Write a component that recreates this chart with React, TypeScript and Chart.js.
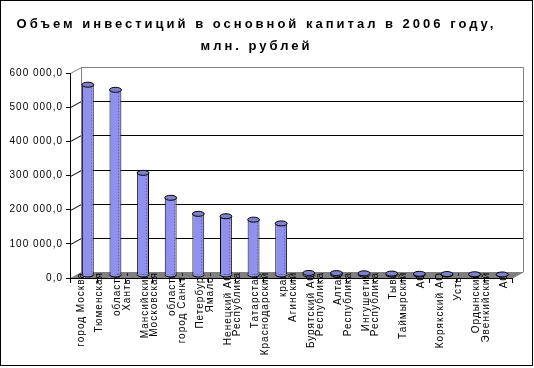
import React, { useEffect, useRef } from 'react';
import { Chart, registerables } from 'chart.js';

Chart.register(...registerables);

const FONT = '"Liberation Sans", Arial, sans-serif';

const TITLE_LINES = ['Объем инвестиций в основной капитал в 2006 году,', 'млн. рублей'];

const CATEGORY_LABELS: string[][] = [
  ['город Москва'],
  ['Тюменская', 'область'],
  ['Ханты-', 'Мансийский'],
  ['Московская', 'область'],
  ['город Санкт-', 'Петербург'],
  ['Ямало-', 'Ненецкий АО'],
  ['Республика', 'Татарстан'],
  ['Краснодарский', 'край'],
  ['Агинский', 'Бурятский АО'],
  ['Республика', 'Алтай'],
  ['Республика', 'Ингушетия'],
  ['Республика', 'Тыва'],
  ['Таймырский', 'АО'],
  ['Корякский АО'],
  ['Усть-', 'Ордынский'],
  ['Эвенкийский', 'АО'],
];

const INVESTMENT_VALUES = [
  557000, 542000, 299000, 226000, 179000, 172000, 162000, 151000,
  6000, 5500, 5000, 4200, 3500, 2800, 2200, 1600,
];

const Y_MIN = 0;
const Y_MAX = 600000;
const Y_STEP = 100000;

const BAR_COLOR = '#9090ee';
const TOP_COLOR = '#8080cc';

function formatRu(v: number): string {
  const s = Math.round(v).toString().replace(/\B(?=(\d{3})+(?!\d))/g, ' ');
  return s + ',0';
}

// 3D depth offsets
const DEPTH_DX = 11;
const DEPTH_DY = -6;
const BAR_DX = 4;
const BAR_DY = -3;

const spacingPlugin = {
  id: 'spacing',
  beforeDraw(chart: any) {
    const tb = chart.titleBlock;
    if (tb && !tb.__wrapped) {
      const orig = tb.draw.bind(tb);
      tb.draw = (...a: any[]) => {
        const ctx = chart.ctx as any;
        const prev = ctx.letterSpacing;
        ctx.letterSpacing = '3px';
        orig(...a);
        ctx.letterSpacing = prev || '0px';
      };
      tb.__wrapped = true;
    }
    Object.values(chart.scales).forEach((sc: any) => {
      if (!sc.__wrapped) {
        const orig = sc.drawLabels.bind(sc);
        sc._computeLabelArea = () => undefined;
        sc.drawLabels = (...a: any[]) => {
          const ctx = chart.ctx as any;
          const prev = ctx.letterSpacing;
          ctx.letterSpacing = '1px';
          orig(...a);
          ctx.letterSpacing = prev || '0px';
        };
        sc.__wrapped = true;
      }
    });
  },
};

const wallsPlugin = {
  id: 'walls',
  beforeDraw(chart: any) {
    const ctx = chart.ctx as CanvasRenderingContext2D;
    const { left, right, top, bottom } = chart.chartArea;
    const y = chart.scales.y;
    const L = Math.round(left) + 0.5;
    const R = Math.round(right) + 0.5;
    ctx.save();
    ctx.lineWidth = 1;
    // floor
    ctx.fillStyle = '#808080';
    ctx.beginPath();
    ctx.moveTo(L, bottom);
    ctx.lineTo(R, bottom);
    ctx.lineTo(R + DEPTH_DX, bottom + DEPTH_DY);
    ctx.lineTo(L + DEPTH_DX, bottom + DEPTH_DY);
    ctx.closePath();
    ctx.fill();
    // back gridlines
    for (let v = Y_MIN + Y_STEP; v < Y_MAX; v += Y_STEP) {
      const py = Math.round(y.getPixelForValue(v)) + 0.5;
      ctx.strokeStyle = '#000';
      ctx.beginPath();
      ctx.moveTo(L, py);
      ctx.lineTo(L + DEPTH_DX, py + DEPTH_DY);
      ctx.lineTo(R + DEPTH_DX, py + DEPTH_DY);
      ctx.stroke();
    }
    // wall outlines
    const ty = Math.round(top) + 0.5;
    ctx.strokeStyle = '#808080';
    ctx.beginPath();
    ctx.moveTo(L, ty);
    ctx.lineTo(L + DEPTH_DX, ty + DEPTH_DY);
    ctx.lineTo(R + DEPTH_DX, ty + DEPTH_DY);
    ctx.lineTo(R + DEPTH_DX, bottom + DEPTH_DY);
    ctx.lineTo(R, bottom);
    ctx.moveTo(L + DEPTH_DX, ty + DEPTH_DY);
    ctx.lineTo(L + DEPTH_DX, bottom + DEPTH_DY);
    ctx.stroke();
    ctx.restore();
  },
};

const barsPlugin = {
  id: 'bars3d',
  beforeDatasetsDraw(chart: any) {
    const ctx = chart.ctx as CanvasRenderingContext2D;
    ctx.save();
    ctx.translate(BAR_DX, BAR_DY);
  },
  afterDatasetsDraw(chart: any) {
    const ctx = chart.ctx as CanvasRenderingContext2D;
    const meta = chart.getDatasetMeta(0);
    const eh = 2.5;
    meta.data.forEach((bar: any) => {
      const x = bar.x;
      const yTop = bar.y;
      const yBase = bar.base;
      const w = bar.width;
      ctx.lineWidth = 1;
      ctx.beginPath();
      ctx.ellipse(x, yBase, w / 2, eh, 0, 0, Math.PI);
      ctx.fillStyle = BAR_COLOR;
      ctx.fill();
      ctx.strokeStyle = '#000';
      ctx.stroke();
      if (yBase - yTop > 6) {
        ctx.save();
        ctx.setLineDash([1, 2]);
        ctx.strokeStyle = '#5a5aa8';
        ctx.beginPath();
        ctx.moveTo(Math.round(x + w / 2 - 3) + 0.5, yTop + 3);
        ctx.lineTo(Math.round(x + w / 2 - 3) + 0.5, yBase);
        ctx.stroke();
        ctx.restore();
      }
      ctx.beginPath();
      ctx.ellipse(x, yTop, w / 2, eh, 0, 0, Math.PI * 2);
      ctx.fillStyle = TOP_COLOR;
      ctx.fill();
      ctx.strokeStyle = '#000';
      ctx.stroke();
    });
    ctx.restore();
  },
};

export default function App() {
  const ref = useRef<HTMLCanvasElement | null>(null);

  useEffect(() => {
    if (!ref.current) return;
    const chart = new Chart(ref.current, {
      type: 'bar',
      data: {
        labels: CATEGORY_LABELS.map((l) => l.join(' ')),
        datasets: [
          {
            data: INVESTMENT_VALUES,
            backgroundColor: BAR_COLOR,
            borderColor: '#000',
            borderWidth: 1,
            borderSkipped: 'bottom',
            barPercentage: 0.43,
            categoryPercentage: 1,
            clip: false as any,
          },
        ],
      },
      options: {
        responsive: false,
        animation: false,
        events: [],
        layout: { padding: { top: 0, left: 0, right: 20, bottom: 0 } },
        plugins: {
          legend: { display: false },
          tooltip: { enabled: false },
          title: {
            display: true,
            text: TITLE_LINES,
            color: '#000',
            font: { family: FONT, size: 13, weight: 'bold', lineHeight: '22px' } as any,
            padding: { top: 12, bottom: 16 },
          },
        },
        scales: {
          x: {
            grid: {
              display: true,
              drawOnChartArea: false,
              drawTicks: true,
              tickLength: 5,
              color: '#000',
              offset: true,
            },
            border: { display: true, color: '#000', width: 1 },
            ticks: {
              autoSkip: false,
              maxRotation: 90,
              minRotation: 90,
              padding: -11,
              labelOffset: -12,
              color: '#000',
              font: (c: any) => {
                const l = CATEGORY_LABELS[c.index];
                const single = l && l.length === 1;
                return { family: FONT, size: 10, lineHeight: single ? '9px' : '18px' } as any;
              },
              callback: (_v: any, i: number) => {
                const l = CATEGORY_LABELS[i];
                return l.length === 1 ? ['', l[0]] : l;
              },
            },
            afterFit: (s: any) => {
              s.height = 87;
            },
          },
          y: {
            min: Y_MIN,
            max: Y_MAX,
            grid: {
              display: true,
              drawOnChartArea: false,
              drawTicks: true,
              tickLength: 4,
              color: '#000',
            },
            border: { display: true, color: '#000', width: 1 },
            ticks: {
              stepSize: Y_STEP,
              padding: 3,
              color: '#000',
              font: { family: FONT, size: 10 },
              callback: (v: any) => formatRu(Number(v)),
            },
            afterFit: (s: any) => {
              s.width = 69;
            },
          },
        },
      },
      plugins: [spacingPlugin, wallsPlugin, barsPlugin],
    });
    return () => chart.destroy();
  }, []);

  return (
    <div
      style={{
        position: 'absolute',
        left: 0,
        top: 0,
        width: 533,
        height: 366,
        border: '1px solid #000',
        boxSizing: 'border-box',
        background: '#fff',
      }}
    >
      <canvas ref={ref} width={531} height={364} style={{ display: 'block' }} />
    </div>
  );
}
